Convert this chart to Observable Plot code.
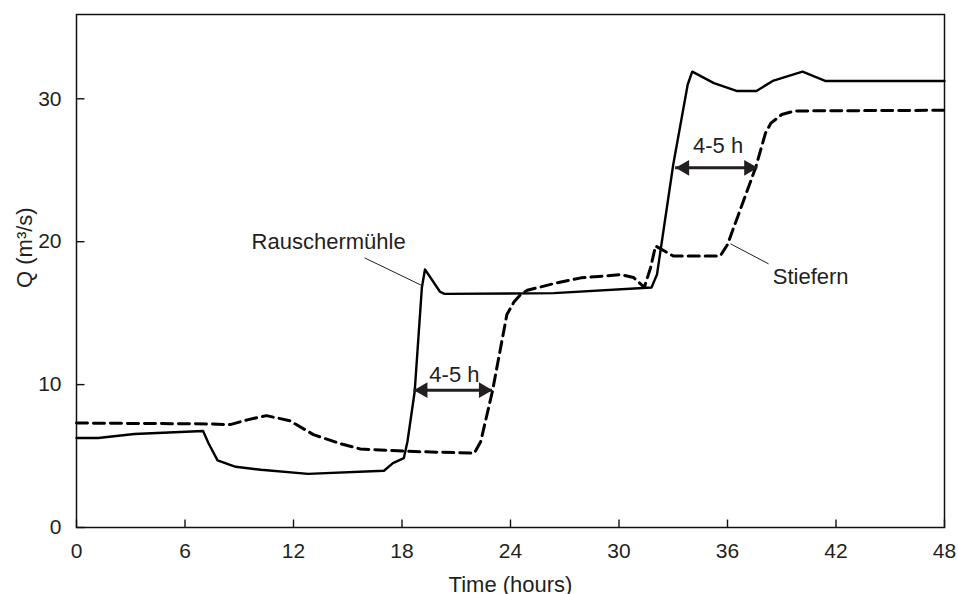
<!DOCTYPE html>
<html><head><meta charset="utf-8">
<script src="https://cdn.jsdelivr.net/npm/d3@7"></script>
<script src="https://cdn.jsdelivr.net/npm/@observablehq/plot@0.6"></script>
<style>body{margin:0;background:#fff;} svg{display:block}</style>
</head><body><div id="chart"></div>
<script>
// Rauschermühle (solid)
const rHours = [0, 1.2, 3.2, 7.0, 7.3, 7.8, 8.8, 10.2, 12.8, 17.0, 17.5, 18.1, 18.3, 18.7, 19.1, 19.27, 20.1, 20.35, 26.4, 31.8, 32.1, 33.0, 33.8, 34.05, 35.25, 36.5, 37.6, 38.5, 40.15, 41.4, 48];
const rQ     = [6.26, 6.26, 6.54, 6.75, 5.9, 4.7, 4.25, 4.04, 3.75, 3.97, 4.5, 4.85, 6.0, 9.5, 16.8, 18.06, 16.5, 16.35, 16.4, 16.8, 17.7, 25.4, 31.0, 31.9, 31.1, 30.55, 30.55, 31.25, 31.9, 31.25, 31.25];
// Stiefern (dashed)
const sHours = [0, 7.2, 8.5, 9.5, 10.5, 11.8, 13.1, 14.5, 15.7, 18.3, 22.0, 22.35, 23.0, 23.8, 24.2, 24.56, 24.93, 26.5, 27.9, 30.1, 30.8, 31.4, 31.75, 32.02, 33.0, 35.6, 36.0, 37.56, 38.1, 38.4, 39.0, 39.7, 48];
const sQ     = [7.31, 7.25, 7.2, 7.55, 7.83, 7.47, 6.5, 5.9, 5.49, 5.33, 5.2, 6.0, 9.53, 14.9, 15.8, 16.3, 16.6, 17.1, 17.47, 17.7, 17.5, 16.8, 18.2, 19.7, 19.0, 19.0, 19.8, 25.2, 27.6, 28.3, 28.9, 29.15, 29.2];

const xTicks = [0, 6, 12, 18, 24, 30, 36, 42, 48];
const yTicks = [0, 10, 20, 30];

// lag arrows
const arrowStart = [18.66, 33.13];
const arrowEnd   = [23.0, 37.67];
const arrowQ     = [9.61, 25.17];

// labels
const labelText  = ["Rauschermühle", "Stiefern", "4-5 h", "4-5 h"];
const labelHours = [13.94, 40.6, 20.9, 35.48];
const labelQ     = [19.97, 17.56, 10.69, 26.73];

// leader lines
const leaderX1 = [15.93, 36.17];
const leaderY1 = [18.87, 19.85];
const leaderX2 = [19.14, 38.27];
const leaderY2 = [16.91, 18.45];

const rData = rHours.map((t, i) => ({t, q: rQ[i]}));
const sData = sHours.map((t, i) => ({t, q: sQ[i]}));
const arrows = arrowStart.map((x1, i) => ({x1, x2: arrowEnd[i], y: arrowQ[i]}));
const labels = labelText.map((text, i) => ({text, x: labelHours[i], y: labelQ[i]}));
const leaders = leaderX1.map((x1, i) => ({x1, y1: leaderY1[i], x2: leaderX2[i], y2: leaderY2[i]}));
const xTickData = xTicks.map(t => ({t}));
const yTickData = yTicks.map(q => ({q}));

const ink = "#231f20";
const W = 958, H = 594, ML = 76, MR = 14, MT = 14, MB = 67, TICK = 8;
const xDomain = [0, 48], yDomain = [0, 35.9];
// inward tick length expressed in data units of each scale
const tickLenQ = TICK * (yDomain[1] - yDomain[0]) / (H - MT - MB);
const tickLenT = TICK * (xDomain[1] - xDomain[0]) / (W - ML - MR);

const chart = Plot.plot({
  width: W, height: H,
  marginLeft: ML, marginRight: MR, marginTop: MT, marginBottom: MB,
  x: {domain: xDomain},
  y: {domain: yDomain},
  style: {fontFamily: "'Liberation Sans', Arial, sans-serif", background: "#fff", color: ink},
  marks: [
    Plot.axisX({ticks: xTicks, tickSize: 0, tickPadding: 16, fontSize: 21, label: null}),
    Plot.axisY({ticks: yTicks, tickSize: 0, tickPadding: 15, fontSize: 21, label: null}),
    Plot.frame({stroke: "#111", strokeWidth: 1.5}),
    Plot.link(xTickData, {x1: "t", x2: "t", y1: () => yDomain[0], y2: () => yDomain[0] + tickLenQ, stroke: "#111", strokeWidth: 1.4}),
    Plot.link(yTickData, {y1: "q", y2: "q", x1: () => xDomain[0], x2: () => xDomain[0] + tickLenT, stroke: "#111", strokeWidth: 1.4}),
    Plot.text(["Time (hours)"], {text: d => d, frameAnchor: "bottom", dy: 49, lineAnchor: "top", fontSize: 22, fill: ink}),
    Plot.text(["Q (m³/s)"], {text: d => d, frameAnchor: "left", dx: -52, dy: 17, rotate: -90, fontSize: 22, fill: ink}),
    Plot.line(sData, {x: "t", y: "q", stroke: "#000", strokeWidth: 3, strokeDasharray: "11,6"}),
    Plot.line(rData, {x: "t", y: "q", stroke: "#000", strokeWidth: 2.4}),
    Plot.link(leaders, {x1: "x1", y1: "y1", x2: "x2", y2: "y2", stroke: ink, strokeWidth: 1}),
    Plot.ruleY(arrows, {x1: "x1", x2: "x2", y: "y", stroke: ink, strokeWidth: 3}),
    Plot.dot(arrows, {x: "x2", y: "y", symbol: "triangle", r: 5.8, rotate: 90, dx: -9, fill: ink, stroke: "none"}),
    Plot.dot(arrows, {x: "x1", y: "y", symbol: "triangle", r: 5.8, rotate: -90, dx: 9, fill: ink, stroke: "none"}),
    Plot.text(labels, {x: "x", y: "y", text: "text", fontSize: 22, fill: ink})
  ]
});
document.getElementById("chart").append(chart);
</script>
</body></html>
